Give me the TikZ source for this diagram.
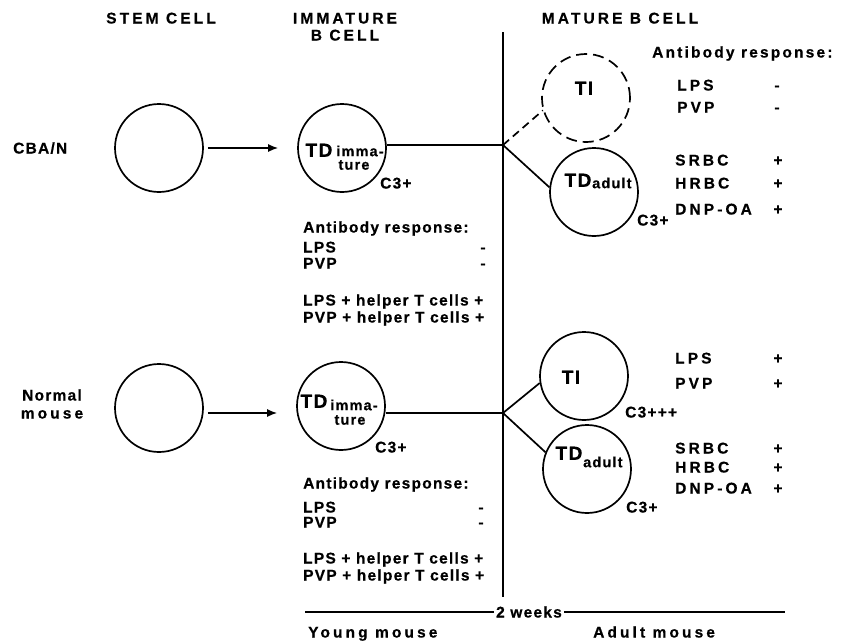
\documentclass[tikz,border=0pt]{standalone}
\usepackage{fontspec}
\newfontfamily\labf{Liberation Sans}[LetterSpace=8,FakeBold=0.6]
\newfontfamily\labm{Liberation Sans}[LetterSpace=14,FakeBold=0.6]
\newfontfamily\labw{Liberation Sans}[LetterSpace=20,FakeBold=0.6]
\usetikzlibrary{arrows.meta}
\begin{document}
\begin{tikzpicture}[x=1pt,y=-1pt,
  txt/.style={font=\labf\bfseries\fontsize{15.5}{16}\selectfont, inner sep=0pt, text height=11pt, text depth=0pt},
  mtxt/.style={txt, font=\labm\bfseries\fontsize{15.5}{16}\selectfont},
  wtxt/.style={txt, font=\labw\bfseries\fontsize{15.5}{16}\selectfont},
  subt/.style={font=\labf\bfseries\fontsize{14.5}{15}\selectfont, inner sep=0pt},
  bigt/.style={font=\labf\bfseries\fontsize{19}{20}\selectfont, inner sep=0pt, text height=13.6pt, text depth=0pt},
  cell/.style={circle, draw, line width=1.7pt, minimum size=88pt, inner sep=0pt},
  dcell/.style={cell, dash pattern=on 11pt off 6pt},
  ln/.style={line width=1.7pt},
  dln/.style={line width=1.7pt, dash pattern=on 8pt off 5pt},
  arr/.style={line width=1.5pt, -{Latex[length=10pt,width=8pt]}, shorten <=4pt, shorten >=19pt}
]
\useasboundingbox (0,0) rectangle (842,643);

% headers
\node[wtxt] (hstem) at (161,18) {STEM CELL};
\node[wtxt] (himm1) at (345,18) {IMMATURE};
\node[wtxt] (himm2) at (345,35) {B CELL};
\node[wtxt] (hmat) at (620,18) {MATURE B CELL};

% row labels
\node[txt, anchor=west] (cba) at (13,148) {CBA/N};
\node[txt] (norm1) at (52,395) {Normal};
\node[wtxt] (norm2) at (52,413) {mouse};

% cells
\node[cell] (stemA) at (159,148) {};
\node[cell] (tdA) at (342,148) {};
\node[dcell] (tiA) at (586,98) {};
\node[cell] (adA) at (594,192) {};
\node[cell] (stemB) at (159,408) {};
\node[cell] (tdB) at (341,406) {};
\node[cell] (tiB) at (584,376) {};
\node[cell] (adB) at (587,469) {};

% cell texts
\node[bigt] (tdAt) at (319,150) {TD};
\node[subt] (tdAs1) at (360,151) {imma-};
\node[subt] (tdAs2) at (354,165) {ture};
\node[bigt] (tiAt) at (584,88) {TI};
\node[bigt] (adAt1) at (578,180) {TD};
\node[subt, anchor=west] (adAt2) at (592,183) {adult};
\node[bigt] (tdBt) at (314,401) {TD};
\node[subt] (tdBs1) at (354,405) {imma-};
\node[subt] (tdBs2) at (350,420) {ture};
\node[bigt] (tiBt) at (571,377) {TI};
\node[bigt] (adBt1) at (569,453) {TD};
\node[subt, anchor=west] (adBt2) at (583,462) {adult};

% C3 labels
\node[txt, anchor=west] (c3A) at (380,183) {C3+};
\node[txt, anchor=west] (c3B) at (375,447) {C3+};
\node[txt, anchor=west] (c3C) at (637,220) {C3+};
\node[txt, anchor=west] (c3D) at (625,412) {C3+++};
\node[txt, anchor=west] (c3E) at (626,507) {C3+};

% connectors
\coordinate (jA) at (503,145);
\coordinate (jB) at (503,413);
\coordinate (vtop) at (503,32);
\coordinate (vbot) at (503,597);
\draw[ln] (vtop) -- (vbot);
\draw[arr] (stemA) -- (tdA);
\draw[arr] (stemB.east |- jB) -- (tdB.west |- jB);
\draw[ln] (tdA.east |- jA) -- (jA);
\draw[ln] (tdB.east |- jB) -- (jB);
\draw[dln] (jA) -- (tiA.196);
\draw[ln] (jA) -- (adA.174);
\draw[ln] (jB) -- (tiB.189);
\draw[ln] (jB) -- (adB.158);

% left panels
\node[txt, anchor=west] (abA) at (303,227) {Antibody response:};
\node[txt, anchor=west] (lpsA) at (303,247) {LPS};
\node[txt] (lpsAv) at (483,247) {-};
\node[txt, anchor=west] (pvpA) at (303,263) {PVP};
\node[txt] (pvpAv) at (483,263) {-};
\node[txt, anchor=west] (lhA) at (303,300) {LPS + helper T cells +};
\node[txt, anchor=west] (phA) at (303,317) {PVP + helper T cells +};

\node[txt, anchor=west] (abB) at (303,483) {Antibody response:};
\node[txt, anchor=west] (lpsB) at (303,507) {LPS};
\node[txt] (lpsBv) at (481,507) {-};
\node[txt, anchor=west] (pvpB) at (303,522) {PVP};
\node[txt] (pvpBv) at (481,522) {-};
\node[txt, anchor=west] (lhB) at (303,558) {LPS + helper T cells +};
\node[txt, anchor=west] (phB) at (303,575) {PVP + helper T cells +};

% right panels
\node[mtxt, anchor=west] (abR) at (652,52) {Antibody response:};
\node[wtxt, anchor=west] (lpsR) at (677,85) {LPS};
\node[txt] (lpsRv) at (777,85) {-};
\node[wtxt, anchor=west] (pvpR) at (677,107) {PVP};
\node[txt] (pvpRv) at (777,107) {-};
\node[wtxt, anchor=west] (srA) at (675,160) {SRBC};
\node[txt] (srAv) at (778,160) {+};
\node[wtxt, anchor=west] (hrA) at (675,183) {HRBC};
\node[txt] (hrAv) at (778,183) {+};
\node[wtxt, anchor=west] (dnA) at (675,209) {DNP-OA};
\node[txt] (dnAv) at (778,209) {+};

\node[wtxt, anchor=west] (lpsR2) at (675,358) {LPS};
\node[txt] (lpsR2v) at (778,358) {+};
\node[wtxt, anchor=west] (pvpR2) at (675,383) {PVP};
\node[txt] (pvpR2v) at (778,383) {+};
\node[wtxt, anchor=west] (srB) at (675,448) {SRBC};
\node[txt] (srBv) at (778,448) {+};
\node[wtxt, anchor=west] (hrB) at (675,467) {HRBC};
\node[txt] (hrBv) at (778,467) {+};
\node[wtxt, anchor=west] (dnB) at (675,488) {DNP-OA};
\node[txt] (dnBv) at (778,488) {+};

% timeline
\coordinate (tlL) at (305,612);
\coordinate (tlR) at (785,612);
\node[txt, inner xsep=2pt] (wk) at (529,612) {2 weeks};
\draw[line width=1.4pt] (tlL) -- (wk.west);
\draw[line width=1.4pt] (wk.east) -- (tlR);
\node[wtxt, anchor=west] (young) at (308,632) {Young mouse};
\node[wtxt, anchor=west] (adult) at (593,632) {Adult mouse};
\end{tikzpicture}
\end{document}
